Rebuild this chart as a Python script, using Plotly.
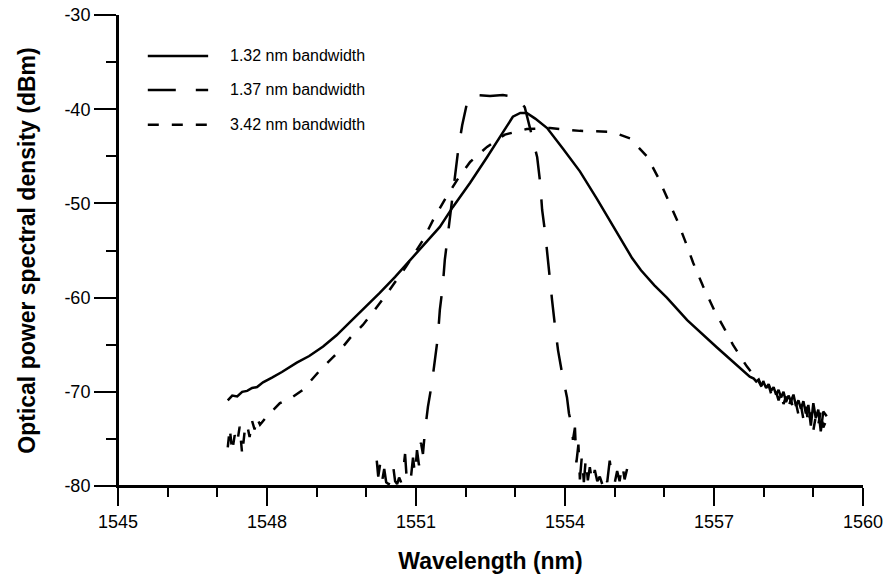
import plotly.graph_objects as go

# ---------------- data ----------------
# 1.32 nm bandwidth (solid)
wl_132 = [1547.21, 1547.30, 1547.40, 1547.50, 1547.60, 1547.70, 1547.80, 1547.92,
          1548.10, 1548.30, 1548.60, 1548.85, 1549.13, 1549.40, 1549.67, 1549.95,
          1550.27, 1550.58, 1550.88, 1551.18, 1551.48, 1551.74, 1552.09, 1552.43,
          1552.75, 1552.95, 1553.10, 1553.23, 1553.40, 1553.64, 1553.96, 1554.30,
          1554.64, 1554.90, 1555.15, 1555.35, 1555.53, 1555.80, 1556.05, 1556.46,
          1557.06, 1557.40, 1557.72,
          1557.80, 1557.85, 1557.90, 1557.95, 1558.00, 1558.05, 1558.10, 1558.15,
          1558.20, 1558.25, 1558.30, 1558.35, 1558.40, 1558.45, 1558.50, 1558.55,
          1558.60, 1558.65, 1558.70, 1558.75, 1558.80, 1558.85, 1558.90, 1558.95,
          1559.00, 1559.05, 1559.10, 1559.15, 1559.20, 1559.27]
db_132 = [-70.9, -70.4, -70.5, -70.0, -69.9, -69.6, -69.5, -69.0,
          -68.5, -67.9, -66.9, -66.2, -65.2, -64.0, -62.6, -61.2,
          -59.5, -57.8, -56.0, -54.3, -52.5, -50.4, -47.8, -45.1,
          -42.5, -40.8, -40.4, -40.4, -41.0, -42.0, -44.2, -46.6,
          -49.5, -51.8, -54.1, -55.8, -57.1, -58.7, -60.0, -62.4,
          -65.3, -66.9, -68.4,
          -68.6, -68.9, -68.7, -69.3, -69.0, -69.6, -69.2, -69.9,
          -69.5, -70.3, -69.8, -70.6, -70.0, -71.1, -70.4, -71.0,
          -70.3, -71.5, -70.9, -71.8, -71.0, -72.3, -71.4, -73.6,
          -71.2, -72.8, -71.9, -74.2, -72.1, -72.6]

# 1.37 nm bandwidth (long dash)
wl_137 = [1550.21, 1550.24, 1550.28, 1550.32, 1550.36, 1550.40, 1550.45, 1550.50,
          1550.54, 1550.58, 1550.62, 1550.66, 1550.70, 1550.74, 1550.78, 1550.82,
          1550.86, 1550.90, 1550.94, 1550.98, 1551.02, 1551.06, 1551.10, 1551.14,
          1551.18, 1551.24, 1551.32, 1551.38, 1551.44, 1551.48, 1551.54, 1551.58,
          1551.68, 1551.72, 1551.78, 1551.85, 1551.93, 1552.05, 1552.23, 1552.49,
          1552.75, 1552.90, 1553.05, 1553.19, 1553.29, 1553.44, 1553.50, 1553.54,
          1553.60, 1553.66, 1553.70, 1553.74, 1553.80, 1553.86, 1553.94, 1554.00,
          1554.04, 1554.08, 1554.14, 1554.16,
          1554.20, 1554.23, 1554.27, 1554.30, 1554.34, 1554.38, 1554.42, 1554.46,
          1554.50, 1554.55, 1554.60, 1554.65, 1554.70, 1554.75, 1554.80, 1554.85,
          1554.90, 1554.95, 1555.00, 1555.05, 1555.10, 1555.15, 1555.20, 1555.25]
db_137 = [-77.3, -79.0, -77.6, -79.4, -78.2, -79.6, -79.8, -79.2,
          -77.9, -79.5, -79.8, -79.1, -79.6, -78.5, -76.6, -79.8,
          -79.4, -79.0, -77.0, -78.8, -76.2, -77.8, -75.4, -76.6,
          -74.2, -71.6, -69.1, -66.6, -64.2, -61.3, -58.7, -56.0,
          -51.8, -50.0, -47.2, -44.3, -41.7, -38.8, -38.5, -38.6,
          -38.5, -38.6, -38.8, -39.8, -41.9, -45.1, -47.8, -50.7,
          -53.1, -56.2, -58.9, -60.3, -63.1, -65.6, -68.0, -69.5,
          -70.6, -72.3, -73.7, -75.1,
          -73.8, -77.5, -75.6, -79.3, -76.8, -79.6, -77.0, -79.4,
          -78.0, -79.7, -78.3, -79.5, -79.0, -79.8, -78.6, -79.6,
          -77.3, -79.2, -79.7, -78.4, -79.5, -77.6, -79.3, -78.2]

# 3.42 nm bandwidth (short dash)
wl_342 = [1547.21, 1547.25, 1547.30, 1547.35, 1547.40, 1547.45, 1547.50, 1547.55,
          1547.60, 1547.65, 1547.70, 1547.75, 1547.80, 1547.86, 1548.00, 1548.12,
          1548.26, 1548.50, 1548.72, 1549.07, 1549.47, 1549.67, 1549.93, 1550.17,
          1550.44, 1550.80, 1551.14, 1551.34, 1551.58, 1551.83, 1552.09, 1552.43,
          1552.79, 1553.23, 1553.70, 1554.30, 1554.95, 1555.31, 1555.65, 1555.87,
          1556.07, 1556.25, 1556.42, 1556.58, 1556.78, 1557.02, 1557.22, 1557.38,
          1557.56, 1557.66, 1557.85,
          1557.90, 1557.95, 1558.00, 1558.05, 1558.10, 1558.15, 1558.20, 1558.25,
          1558.30, 1558.35, 1558.40, 1558.45, 1558.50, 1558.55, 1558.60, 1558.65,
          1558.70, 1558.75, 1558.80, 1558.85, 1558.90, 1558.95, 1559.00, 1559.05,
          1559.10, 1559.15, 1559.20, 1559.27]
db_342 = [-75.9, -73.9, -76.3, -74.6, -75.4, -73.7, -76.6, -74.2,
          -73.5, -74.8, -73.1, -74.0, -72.8, -73.5, -72.6, -72.0,
          -71.2, -70.6, -69.8, -67.7, -65.6, -64.3, -62.9, -61.3,
          -59.4, -56.7, -53.9, -51.8, -49.6, -47.5, -45.6, -44.0,
          -42.7, -42.1, -42.0, -42.3, -42.4, -43.1, -45.0, -47.2,
          -49.6, -51.7, -54.0, -56.3, -58.8, -61.5, -63.4, -65.0,
          -66.5, -67.3, -68.6,
          -68.9, -69.4, -68.8, -69.8, -69.3, -70.2, -69.6, -70.0,
          -70.9, -70.1, -71.3, -70.5, -71.6, -70.8, -72.0, -71.2,
          -72.4, -71.4, -72.9, -71.6, -73.4, -72.2, -74.1, -72.6,
          -73.5, -72.0, -73.8, -72.9]

series_names = ["1.32 nm bandwidth", "1.37 nm bandwidth", "3.42 nm bandwidth"]
x_ticks = [1545, 1548, 1551, 1554, 1557, 1560]
y_ticks = [-80, -70, -60, -50, -40, -30]

# ---------------- styles ----------------
FONT = "Liberation Sans, Arial, sans-serif"
dashes = ["solid", "28px,20px", "11px,13px"]
LW = 2.5

fig = go.Figure()
for wl, db, name, dash in zip([wl_132, wl_137, wl_342], [db_132, db_137, db_342],
                              series_names, dashes):
    fig.add_trace(go.Scatter(x=wl, y=db, mode="lines", name=name,
                             line=dict(color="black", width=LW, dash=dash),
                             showlegend=False))

# manual legend (sample line + text), positioned in paper coordinates
leg_y = [0.913, 0.841, 0.767]
for name, dash, yy in zip(series_names, dashes, leg_y):
    fig.add_shape(type="line", xref="paper", yref="paper",
                  x0=0.040, x1=0.121, y0=yy, y1=yy,
                  line=dict(color="black", width=LW, dash=dash))
    fig.add_annotation(xref="paper", yref="paper", x=0.148, y=yy,
                       text=name, showarrow=False, xanchor="left", yanchor="middle",
                       font=dict(family=FONT, size=16, color="black"))

# axis lines (left and bottom)
fig.add_shape(type="line", xref="paper", yref="paper", x0=0, x1=1, y0=0, y1=0,
              line=dict(color="black", width=2))
fig.add_shape(type="line", xref="paper", yref="paper", x0=0, x1=0, y0=0, y1=1,
              line=dict(color="black", width=2))

fig.update_layout(
    width=887, height=577,
    margin=dict(l=118, r=24, t=15, b=91, autoexpand=False),
    paper_bgcolor="white", plot_bgcolor="white",
    font=dict(family=FONT, color="black"),
    xaxis=dict(
        range=[1545, 1560], tickvals=x_ticks, ticktext=[str(v) for v in x_ticks],
        automargin=False,
        showgrid=False, zeroline=False, showline=True, linecolor="black", linewidth=2,
        ticks="outside", ticklen=18, tickwidth=2, tickcolor="black",
        minor=dict(dtick=1, tick0=1545, ticks="outside", ticklen=9, tickwidth=2,
                   tickcolor="black", showgrid=False),
        tickfont=dict(family=FONT, size=18, color="black"),
        title=dict(text="Wavelength (nm)", standoff=22,
                   font=dict(family=FONT, size=23, color="black", weight="bold")),
    ),
    yaxis=dict(
        range=[-80, -30], tickvals=y_ticks, ticktext=[str(v) for v in y_ticks],
        automargin=False,
        showgrid=False, zeroline=False, showline=True, linecolor="black", linewidth=2,
        ticks="outside", ticklen=22, tickwidth=2, tickcolor="black",
        minor=dict(dtick=5, tick0=-80, ticks="outside", ticklen=10, tickwidth=2,
                   tickcolor="black", showgrid=False),
        tickfont=dict(family=FONT, size=18, color="black"),
        title=dict(text="Optical power spectral density (dBm)", standoff=22,
                   font=dict(family=FONT, size=23, color="black", weight="bold")),
    ),
)

fig.write_html("out.html")
